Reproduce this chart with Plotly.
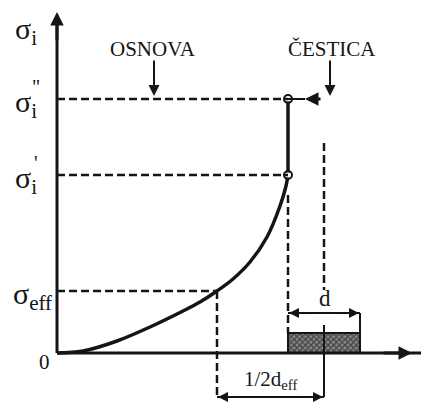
import plotly.graph_objects as go

# ---- schematic data (arbitrary units, origin at axis crossing) ----
sigma_i2 = 254      # σ_i''
sigma_i1 = 178      # σ_i'
sigma_eff = 62      # σ_eff
x_eff = 160         # end of 1/2 d_eff
x_interface = 231   # matrix / particle interface
x_center = 267      # particle centre
x_right = 303       # particle right edge
box_height = 20
d_level = 40
deff_level = -44
y_axis_top = 341
x_axis_tip = 355
x_axis_end = 364

curve_x = [0, 26, 60, 93, 126, 143, 160, 176, 193, 210, 223, 229, 231]
curve_y = [0, 2, 12, 26, 42, 51, 62, 74, 91, 116, 147, 167, 178]

level_labels = ["σ<sub>i</sub>", "σ<sub>i</sub>", "σ<sub>eff</sub>"]
level_values = [sigma_i2, sigma_i1, sigma_eff]
top_labels = ["OSNOVA", "ČESTICA"]
top_label_x = [97, 273]

INK = "#151515"
FONT = "Liberation Serif"
DASH = "8px,4px"

fig = go.Figure()

# hatched particle
fig.add_trace(go.Scatter(
    x=[x_interface, x_right, x_right, x_interface, x_interface],
    y=[0, 0, box_height, box_height, 0],
    mode="lines", fill="toself", line=dict(color=INK, width=2),
    fillcolor="white",
    fillpattern=dict(shape="x", size=4, solidity=0.6, fgcolor="#000000", bgcolor="#8a8a8a"),
    hoverinfo="skip", showlegend=False))

# stress curve in matrix
fig.add_trace(go.Scatter(x=curve_x, y=curve_y, mode="lines",
                         line=dict(color=INK, width=3.5, shape="spline", smoothing=1.0),
                         hoverinfo="skip", showlegend=False))
# jump at interface
fig.add_trace(go.Scatter(x=[x_interface, x_interface], y=[sigma_i1, sigma_i2], mode="lines",
                         line=dict(color=INK, width=3.5), hoverinfo="skip", showlegend=False))

shapes = []
def seg(x0, y0, x1, y1, dash=None, width=2.5):
    d = dict(type="line", x0=x0, y0=y0, x1=x1, y1=y1, xref="x", yref="y",
             line=dict(color=INK, width=width))
    if dash:
        d["line"]["dash"] = dash
    shapes.append(d)

# horizontal dashed levels
seg(0, sigma_i2, x_interface, sigma_i2, DASH)
seg(0, sigma_i1, x_interface, sigma_i1, DASH)
seg(0, sigma_eff, x_eff, sigma_eff, DASH)
# vertical dashed
seg(x_eff, sigma_eff, x_eff, deff_level, DASH)
seg(x_interface, sigma_i1 - 20, x_interface, box_height, DASH)
seg(x_center, 210, x_center, 63, DASH)
# solid centre tick and d extension
seg(x_center, 28, x_center, deff_level, None, 2)
seg(x_right, 0, x_right, d_level, None, 2)
# d line and 1/2 d_eff line
seg(x_interface, d_level, x_right, d_level, None, 2)
seg(x_eff, deff_level, x_center, deff_level, None, 2)
# line from σ_i'' circle to the right
seg(x_interface, sigma_i2, 248, sigma_i2, None, 2)
# axes
seg(0, 0, 0, y_axis_top - 10, None, 3)
seg(0, 0, x_axis_end, 0, None, 3)

annotations = []
def arrow(x, y, ax, ay, w=2, size=1.0, head=2):
    annotations.append(dict(x=x, y=y, ax=ax, ay=ay, xref="x", yref="y", axref="x", ayref="y",
                            text="", showarrow=True, arrowhead=head, arrowsize=size,
                            arrowwidth=w, arrowcolor=INK))

arrow(0, y_axis_top, 0, y_axis_top - 30, w=3, size=0.9)
arrow(x_axis_tip, 0, x_axis_tip - 30, 0, w=3, size=0.9)
for tx in top_label_x:
    arrow(tx, sigma_i2 + 3, tx, 294, w=2, size=1.1)
arrow(248, sigma_i2, 265, sigma_i2, w=3, size=0.9)
# d arrows
arrow(x_interface + 1, d_level, x_interface + 22, d_level, w=2, size=1.0)
arrow(x_right - 1, d_level, x_right - 22, d_level, w=2, size=1.0)
# 1/2 d_eff arrows
arrow(x_eff + 1, deff_level, x_eff + 22, deff_level, w=2, size=1.0)
arrow(x_center - 1, deff_level, x_center - 22, deff_level, w=2, size=1.0)

def text(x, y, s, size=22, xanchor="center", yanchor="middle"):
    annotations.append(dict(x=x, y=y, xref="x", yref="y", text=s, showarrow=False,
                            xanchor=xanchor, yanchor=yanchor,
                            font=dict(family=FONT, size=size, color=INK)))

text(-18, 322, "σ<sub>i</sub>", size=30, xanchor="right")
for lab, val in zip(level_labels, level_values):
    text(-3 if lab.endswith("eff</sub>") else -18, val - 5, lab, size=30, xanchor="right")
text(-21, 266, "\"", size=20)
text(-21, 190, "'", size=20)
text(-13, -9, "0", size=21)
for lab, tx in zip(top_labels, top_label_x):
    text(tx - 1 if lab == "OSNOVA" else tx + 2, 304, lab, size=21)
text(x_center + 1, 55, "d", size=23)
text((x_eff + x_center) / 2, -27, "1/2d<sub>eff</sub>", size=21)

fig.update_layout(
    width=421, height=402, margin=dict(l=0, r=0, t=0, b=0),
    paper_bgcolor="white", plot_bgcolor="white",
    xaxis=dict(range=[-57, 364], visible=False, fixedrange=True),
    yaxis=dict(range=[-49, 353], visible=False, fixedrange=True),
    shapes=shapes, annotations=annotations, showlegend=False)

fig.add_trace(go.Scatter(x=[x_interface, x_interface], y=[sigma_i1, sigma_i2], mode="markers",
                         marker=dict(symbol="circle-open", size=8, color=INK, line=dict(width=2)),
                         hoverinfo="skip", showlegend=False))
fig.add_trace(go.Scatter(x=[x_interface, x_interface], y=[sigma_i1, sigma_i2], mode="markers",
                         marker=dict(symbol="circle", size=5, color="white"),
                         hoverinfo="skip", showlegend=False))

fig.write_html("out.html")
